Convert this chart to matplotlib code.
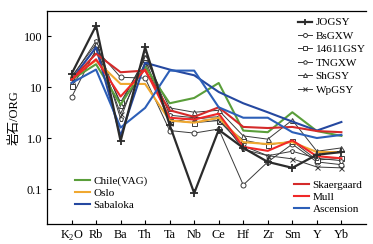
import matplotlib
matplotlib.use("Agg")
import matplotlib.pyplot as plt

plt.rcParams['font.family'] = ['Liberation Serif', 'Noto Sans CJK SC', 'DejaVu Sans']
plt.rcParams['mathtext.fontset'] = 'custom'
plt.rcParams['mathtext.rm'] = 'Liberation Serif'

elements = ['K$_\\mathrm{2}$O', 'Rb', 'Ba', 'Th', 'Ta', 'Nb', 'Ce', 'Hf', 'Zr', 'Sm', 'Y', 'Yb']

# samples
JOGSY    = [18, 160, 0.87, 60, 1.8, 0.083, 1.45, 0.64, 0.34, 0.26, 0.47, 0.53]
BsGXW    = [6.3, 55, 15.5, 15, 1.4, 1.25, 1.5, 0.12, 0.34, 0.76, 0.34, 0.30]
GSY14611 = [10.4, 50, 5.0, 35, 2.2, 2.0, 2.2, 0.91, 0.73, 0.87, 0.37, 0.40]
TNGXW    = [15, 80, 2.4, 45, 2.8, 2.5, 2.6, 0.60, 0.45, 0.55, 0.40, 0.36]
ShGSY    = [16, 70, 4.5, 38, 3.9, 3.2, 3.5, 1.1, 0.95, 2.25, 0.55, 0.64]
WpGSY    = [14, 60, 3.0, 30, 2.0, 2.5, 2.2, 0.70, 0.45, 0.39, 0.27, 0.26]

# reference granites
Chile      = [14, 28, 4.5, 25, 4.8, 6.1, 12, 1.4, 1.3, 3.2, 1.37, 1.1]
Oslo       = [16, 33, 11.5, 11.5, 2.2, 2.0, 2.5, 0.83, 0.76, 0.83, 0.53, 0.53]
Sabaloka   = [14, 60, 1.1, 30, 22, 17, 8, 4.8, 3.2, 2.1, 1.4, 2.06]
Skaergaard = [14, 45, 19.5, 21, 3.5, 2.6, 4.0, 1.65, 1.57, 1.65, 1.37, 1.3]
Mull       = [14, 35, 6.5, 22, 2.5, 2.3, 3.0, 0.67, 0.56, 0.9, 0.44, 0.40]
Ascension  = [12, 22, 1.6, 3.9, 21, 21, 4.0, 2.5, 2.5, 1.3, 1.0, 1.15]

x = list(range(len(elements)))

fig = plt.figure(figsize=(3.73, 2.44), dpi=100)
ax = fig.add_axes([0.126, 0.082, 0.855, 0.873])

gray = '#3a3a3a'
samp = [
    ('BsGXW', BsGXW, 'o'),
    ('14611GSY', GSY14611, 's'),
    ('TNGXW', TNGXW, 'p'),
    ('ShGSY', ShGSY, '^'),
    ('WpGSY', WpGSY, 'x'),
]
sample_handles = []
h = ax.plot(x, JOGSY, color='#2b2b2b', lw=1.6, marker='+', ms=6, mew=1.3, zorder=5)[0]
sample_handles.append((h, 'JOGSY'))
for name, vals, m in samp:
    h = ax.plot(x, vals, color=gray, lw=0.7, marker=m, ms=3.6, mew=0.7,
                mfc='white', zorder=3)[0]
    sample_handles.append((h, name))

refs1 = [('Chile(VAG)', Chile, '#5a9e3a'), ('Oslo', Oslo, '#f0a830'),
         ('Sabaloka', Sabaloka, '#2548a0')]
refs2 = [('Skaergaard', Skaergaard, '#d42a2a'), ('Mull', Mull, '#f02828'),
         ('Ascension', Ascension, '#2c5fb8')]
h1, h2 = [], []
for name, vals, c in refs1:
    h1.append(ax.plot(x, vals, color=c, lw=1.5, zorder=4)[0])
for name, vals, c in refs2:
    h2.append(ax.plot(x, vals, color=c, lw=1.5, zorder=4)[0])

ax.set_yscale('log')
ax.set_ylim(0.0206, 310)
ax.set_xlim(-1, 12)
ax.set_xticks(x)
ax.set_xticklabels(elements, fontsize=8.8)
ax.set_yticks([0.1, 1, 10, 100])
ax.set_yticklabels(['0.1', '1.0', '10', '100'], fontsize=8.8)
ax.minorticks_off()
ax.tick_params(direction='in', length=3, width=0.8)
ax.spines['right'].set_visible(False)
for s in ['left', 'bottom', 'top']:
    ax.spines[s].set_linewidth(0.9)
ax.set_ylabel('岩石/ORG', fontsize=9, labelpad=2)

leg1 = ax.legend([hh for hh, _ in sample_handles], [n for _, n in sample_handles],
                 loc='upper right', bbox_to_anchor=(1.02, 1.0), frameon=False,
                 fontsize=8, handlelength=1.3, handletextpad=0.3, labelspacing=0.33,
                 borderaxespad=0.2, markerscale=0.8)
ax.add_artist(leg1)
leg2 = ax.legend(h1, [n for n, _, _ in refs1], loc='lower left',
                 bbox_to_anchor=(0.055, 0.02), frameon=False, fontsize=8,
                 handlelength=1.4, handletextpad=0.3, labelspacing=0.2)
ax.add_artist(leg2)
leg3 = ax.legend(h2, [n for n, _, _ in refs2], loc='lower right',
                 bbox_to_anchor=(1.02, 0.0), frameon=False, fontsize=8,
                 handlelength=1.4, handletextpad=0.3, labelspacing=0.2)

fig.savefig('out.png', dpi=100)
